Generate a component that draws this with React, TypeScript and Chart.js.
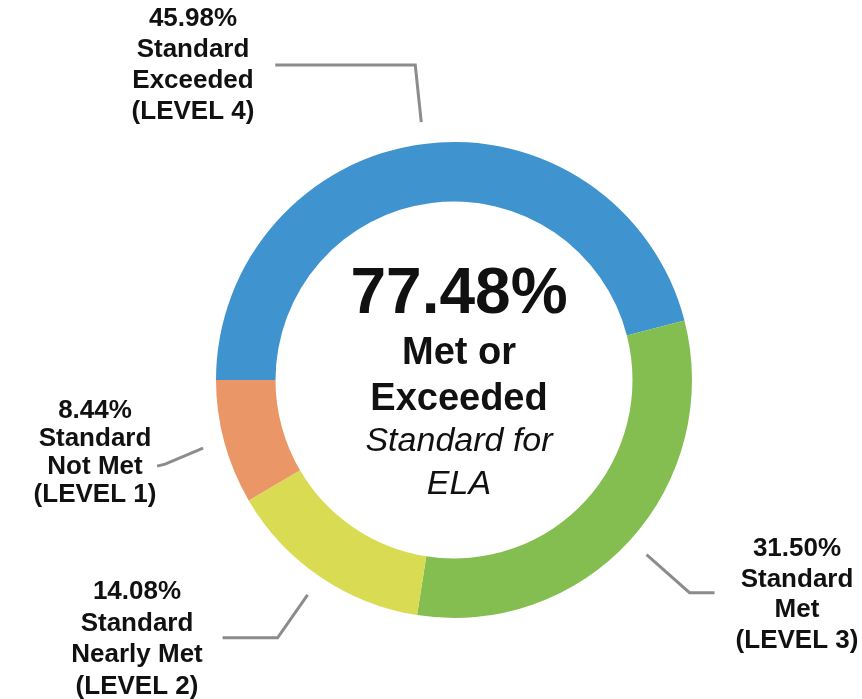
import React, { useEffect, useRef } from "react";
import { Chart, registerables } from "chart.js";

Chart.register(...registerables);

const categories = [
  "Standard Exceeded (LEVEL 4)",
  "Standard Met (LEVEL 3)",
  "Standard Nearly Met (LEVEL 2)",
  "Standard Not Met (LEVEL 1)",
];
const values = [45.98, 31.5, 14.08, 8.44];
const colors = ["#3F93CF", "#84BE51", "#D9DC52", "#EB9666"];
const labelLines = [
  ["45.98%", "Standard", "Exceeded", "(LEVEL 4)"],
  ["31.50%", "Standard", "Met", "(LEVEL 3)"],
  ["14.08%", "Standard", "Nearly Met", "(LEVEL 2)"],
  ["8.44%", "Standard", "Not Met", "(LEVEL 1)"],
];
const centerBig = "77.48%";
const centerBold = ["Met or", "Exceeded"];
const centerItalic = ["Standard for", "ELA"];

// layout of callouts (relative offsets)
const callouts = [
  { elbow: [-6, -57], end: [-140, 0], text: [-261, -361], gap: 31 },
  { elbow: [43, 38], end: [25, 0], text: [343, 169], gap: 30.5 },
  { elbow: [-30, 43], end: [-55, 0], text: [-317, 212], gap: 31.5 },
  { elbow: [-38, 16], end: [-8, 2], text: [-359, 31], gap: 28 },
];

const FONT = '"Liberation Sans", Arial, Helvetica, sans-serif';

const calloutPlugin = {
  id: "callouts",
  afterDraw(chart: any) {
    const ctx = chart.ctx;
    const meta = chart.getDatasetMeta(0);
    meta.data.forEach((arc: any, i: number) => {
      const { x, y, startAngle, endAngle, outerRadius } = arc.getProps(
        ["x", "y", "startAngle", "endAngle", "outerRadius"],
        true
      );
      const mid = (startAngle + endAngle) / 2;
      const r = outerRadius + 22;
      const ax = x + r * Math.cos(mid);
      const ay = y + r * Math.sin(mid);
      const c = callouts[i];
      const ex = ax + c.elbow[0];
      const ey = ay + c.elbow[1];
      const fx = ex + c.end[0];
      const fy = ey + c.end[1];
      ctx.save();
      ctx.strokeStyle = "#8C8C8C";
      ctx.lineWidth = 3;
      ctx.lineJoin = "miter";
      ctx.beginPath();
      ctx.moveTo(ax, ay);
      ctx.lineTo(ex, ey);
      ctx.lineTo(fx, fy);
      ctx.stroke();
      ctx.fillStyle = "#111111";
      ctx.font = `bold 26px ${FONT}`;
      ctx.textAlign = "center";
      ctx.textBaseline = "middle";
      labelLines[i].forEach((t, k) => {
        ctx.fillText(t, x + c.text[0], y + c.text[1] + k * c.gap);
      });
      ctx.restore();
    });
    // center text
    const arc0 = meta.data[0];
    const cx = arc0.x + 5;
    const cy = arc0.y;
    ctx.save();
    ctx.fillStyle = "#111111";
    ctx.textAlign = "center";
    ctx.textBaseline = "middle";
    ctx.font = `bold 64px ${FONT}`;
    ctx.fillText(centerBig, cx, cy - 85);
    ctx.font = `bold 38px ${FONT}`;
    ctx.fillText(centerBold[0], cx, cy - 26);
    ctx.fillText(centerBold[1], cx, cy + 20);
    ctx.font = `italic 34px ${FONT}`;
    ctx.fillText(centerItalic[0], cx, cy + 62);
    ctx.fillText(centerItalic[1], cx, cy + 105);
    ctx.restore();
  },
};

export default function App() {
  const ref = useRef<HTMLCanvasElement | null>(null);
  useEffect(() => {
    if (!ref.current) return;
    const chart = new Chart(ref.current, {
      type: "doughnut",
      data: {
        labels: categories,
        datasets: [
          {
            data: values,
            backgroundColor: colors,
            borderWidth: 0,
          },
        ],
      },
      options: {
        responsive: false,
        animation: false,
        rotation: -90,
        cutout: "75%",
        devicePixelRatio: 1,
        layout: { padding: { left: 216, right: 170, top: 142, bottom: 81 } },
        plugins: {
          legend: { display: false },
          tooltip: { enabled: false },
        },
      },
      plugins: [calloutPlugin],
    });
    return () => chart.destroy();
  }, []);
  return (
    <div style={{ position: "absolute", left: 0, top: 0, width: 862, height: 699, background: "#fff" }}>
      <canvas ref={ref} width={862} height={699} />
    </div>
  );
}
